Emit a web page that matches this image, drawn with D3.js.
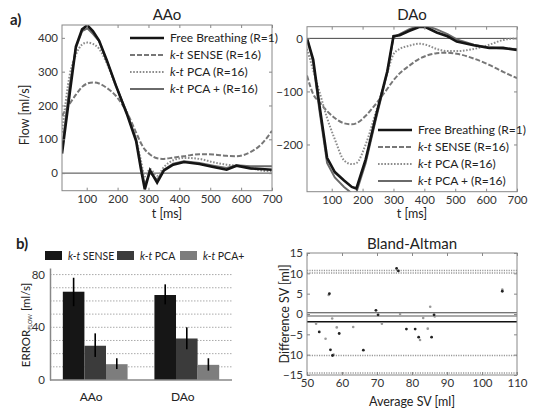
<!DOCTYPE html>
<head>
  <meta charset="utf-8">
  <script src="https://d3js.org/d3.v7.min.js"></script>
  <style>
    body { margin:0; background:#fff; }
    text { font-family: Lato, "Open Sans", sans-serif; fill:#222; }
    .tick text { font-size:11.5px; fill:#333; }
  </style>
</head>
<body>
<script>

/* Data */
/* ==== */

var seriesNames = ["Free Breathing (R=1)", "SENSE (R=16)", "PCA (R=16)", "PCA + (R=16)"];

// AAo flow curves [ml/s]
var aaoTime    = [20, 45, 65, 85, 102, 120, 140, 165, 195, 230, 260, 275, 288, 305, 328, 350, 380, 415, 465, 510, 553, 585, 630, 665, 700];
var aaoFree    = [58, 236, 374, 425, 437, 420, 392, 334, 258, 175, 95, 15, -48, 8, -28, 8, 25, 33, 27, 18, 10, 22, 14, 12, 10];
var aaoSense   = [170, 205, 232, 255, 265, 268, 265, 252, 228, 180, 120, 90, 70, 55, 44, 42, 46, 50, 56, 55, 51, 50, 62, 85, 125];
var aaoPca     = [120, 290, 350, 380, 386, 382, 368, 325, 256, 178, 100, 40, -10, 12, -8, 18, 38, 45, 42, 32, 25, 22, 15, 8, 5];
var aaoPcaPlus = [70, 260, 370, 420, 428, 412, 390, 332, 258, 178, 100, 25, -35, 2, -20, 10, 28, 35, 30, 22, 15, 23, 20, 20, 20];

// DAo flow curves [ml/s]
var daoTime    = [20, 40, 60, 85, 110, 140, 165, 180, 210, 245, 280, 300, 320, 350, 385, 405, 440, 475, 505, 560, 610, 655, 700];
var daoFree    = [0, -40, -125, -225, -252, -268, -280, -283, -228, -142, -62, 4, 6, 14, 22, 21, 11, 4, -6, -13, -18, -18, -22];
var daoSense   = [-70, -105, -120, -137, -150, -160, -162, -160, -146, -122, -95, -79, -66, -52, -38, -33, -28, -27, -29, -38, -50, -63, -75];
var daoPca     = [-20, -60, -100, -150, -190, -230, -237, -235, -200, -135, -65, -30, -20, -14, -10, -12, -20, -24, -24, -20, -12, -3, 0];
var daoPcaPlus = [0, -45, -135, -235, -262, -280, -292, -290, -235, -148, -65, 2, 8, 17, 25, 24, 17, 8, -2, -12, -17, -19, -20];

var timeTicks = [100, 200, 300, 400, 500, 600, 700];

// ERROR_FLOW bars [ml/s]
var barCategories = ["AAo", "DAo"];
var barMethods    = ["SENSE", "PCA", "PCA+"];
var barMeans = [[67, 26, 12], [64.5, 31.5, 11.5]];
var barLow   = [[56, 17.5, 8.3], [57.4, 23.3, 7.1]];
var barHigh  = [[77.6, 35.4, 16.5], [72.6, 40, 16.5]];

// Bland-Altman points [average SV, difference SV]
var baBlack = [[53.5,-4.4],[56.4,5.0],[56.7,-8.8],[57.3,-10.2],[59.2,-4.8],[66.1,-8.9],[69.7,0.9],[70.3,-0.2],
               [75.6,11.2],[76.1,10.6],[78.4,-3.7],[80.9,-3.7],[81.9,-5.7],[85.6,-5.7],[86.3,-0.2],[105.8,5.6]];
var baGray  = [[52.6,-2.4],[55.3,-6.1],[56.2,4.7],[57.2,-1.1],[58.5,-3.3],[63.2,-3.2],[71.4,-2.4],[76.6,0],
               [82.3,-6.4],[83.2,-1],[84.5,-3.6],[85.2,1.8],[86.5,-0.6],[105.8,6.0],[57.6,-10.0]];
var baMeanLines   = [0.3, -0.5, -1.9];
var baLimitLines  = [10.7, 10.1, -10.2, -14.5];


/* Set up */
/* ====== */

var svg = d3.select('body').append('svg')
    .attr('width', 533)
    .attr('height', 413);

var styles = [
  { color: '#151515', width: 2.6, dash: null, curve: d3.curveLinear },
  { color: '#777', width: 2, dash: '5,2', curve: d3.curveMonotoneX },
  { color: '#8c8c8c', width: 2, dash: '1.6,1.6', curve: d3.curveMonotoneX },
  { color: '#6a6a6a', width: 2, dash: null, curve: d3.curveLinear }
];

function label(sel, name) {
  if (name.indexOf('Free') === 0) { sel.text(name); return; }
  sel.append('tspan').style('font-style', 'italic').text('k-t');
  sel.append('tspan').text(' ' + name);
}

function grayTicks(a) {
  a.select('.domain').remove();
  a.selectAll('line').attr('stroke', '#888');
}

// box with MATLAB-like inner ticks on all four sides
function boxAxes(g, x, y, xTicks, yTicks) {
  var r = x.range(), b = y.range();
  g.append('g').attr('transform', 'translate(0,' + b[0] + ')')
    .call(d3.axisBottom(x).tickValues(xTicks).tickSizeInner(-3).tickSizeOuter(0).tickPadding(4))
    .call(grayTicks);
  g.append('g').attr('transform', 'translate(0,' + b[1] + ')')
    .call(d3.axisTop(x).tickValues(xTicks).tickSizeInner(-3).tickSizeOuter(0).tickFormat(''))
    .call(grayTicks);
  g.append('g').attr('transform', 'translate(' + r[0] + ',0)')
    .call(d3.axisLeft(y).tickValues(yTicks).tickSizeInner(-3).tickSizeOuter(0).tickPadding(4))
    .call(grayTicks);
  g.append('g').attr('transform', 'translate(' + r[1] + ',0)')
    .call(d3.axisRight(y).tickValues(yTicks).tickSizeInner(-3).tickSizeOuter(0).tickFormat(''))
    .call(grayTicks);
  g.append('rect')
    .attr('x', r[0]).attr('y', b[1])
    .attr('width', r[1] - r[0]).attr('height', b[0] - b[1])
    .attr('fill', 'none').attr('stroke', '#888').attr('stroke-width', 1);
}

function flowPlot(opt) {
  var g = svg.append('g');
  var x = d3.scaleLinear().domain([20, 700]).range(opt.xr);
  var y = d3.scaleLinear().domain(opt.yd).range(opt.yr);

  var clipId = 'clip' + opt.title;
  svg.append('clipPath').attr('id', clipId).append('rect')
    .attr('x', opt.xr[0]).attr('y', opt.yr[1])
    .attr('width', opt.xr[1] - opt.xr[0]).attr('height', opt.yr[0] - opt.yr[1]);

  g.append('line')
    .attr('x1', opt.xr[0]).attr('x2', opt.xr[1])
    .attr('y1', y(0)).attr('y2', y(0))
    .attr('stroke', '#444').attr('stroke-width', 1);

  var plot = g.append('g').attr('clip-path', 'url(#' + clipId + ')');
  opt.series.forEach(function(vals, i) {
    var s = styles[i];
    var line = d3.line().curve(s.curve)
      .x(function(d, j) { return x(opt.time[j]); })
      .y(function(d) { return y(d); });
    plot.append('path')
      .datum(vals)
      .attr('d', line)
      .attr('fill', 'none')
      .attr('stroke', s.color)
      .attr('stroke-width', s.width)
      .attr('stroke-dasharray', s.dash);
  });
  // draw black on top
  plot.select('path').raise();

  boxAxes(g, x, y, timeTicks, opt.yTicks);

  g.append('text')
    .attr('x', (opt.xr[0] + opt.xr[1]) / 2).attr('y', 20)
    .attr('text-anchor', 'middle').style('font-size', '15px')
    .text(opt.title);

  g.append('text')
    .attr('x', (opt.xr[0] + opt.xr[1]) / 2).attr('y', 218)
    .attr('text-anchor', 'middle').style('font-size', '12.5px')
    .text('t [ms]');

  // legend
  var leg = g.append('g');
  seriesNames.forEach(function(name, i) {
    var s = styles[i];
    var yy = opt.legY + i * 17;
    leg.append('line')
      .attr('x1', opt.legX).attr('x2', opt.legX + 34)
      .attr('y1', yy).attr('y2', yy)
      .attr('stroke', s.color).attr('stroke-width', s.width)
      .attr('stroke-dasharray', s.dash);
    leg.append('text')
      .attr('x', opt.legX + 40).attr('y', yy + 4)
      .style('font-size', '12px')
      .call(label, name);
  });
}

flowPlot({
  title: 'AAo', xr: [62, 272], yd: [-52, 438], yr: [190.7, 25],
  yTicks: [0, 100, 200, 300, 400], time: aaoTime,
  series: [aaoFree, aaoSense, aaoPca, aaoPcaPlus],
  legX: 130, legY: 38
});

flowPlot({
  title: 'DAo', xr: [307, 517], yd: [-289, 22], yr: [191.7, 26.7],
  yTicks: [-200, -100, 0], time: daoTime,
  series: [daoFree, daoSense, daoPca, daoPcaPlus],
  legX: 378, legY: 130
});

svg.append('text').attr('transform', 'translate(29,115) rotate(-90)')
  .attr('text-anchor', 'middle').style('font-size', '12.5px').text('Flow [ml/s]');

svg.append('text').attr('x', 10).attr('y', 25)
  .style('font-size', '15px').style('font-weight', 'bold').text('a)');
svg.append('text').attr('x', 16).attr('y', 249)
  .style('font-size', '15px').style('font-weight', 'bold').text('b)');


/* Bar chart */
/* ========= */

var barColors = ['#161616', '#3b3b3b', '#7d7d7d'];

var bx = d3.scaleBand().domain(barCategories).range([50, 232]).paddingInner(0.293).paddingOuter(0.14);
var bInner = d3.scaleBand().domain(barMethods).range([0, bx.bandwidth()]);
var by = d3.scaleLinear().domain([0, 85]).range([380, 268]);

var bg = svg.append('g');

bg.selectAll('.grid')
  .data(d3.range(10, 90, 10))
  .enter().append('line')
    .attr('x1', 50).attr('x2', 232)
    .attr('y1', function(d) { return by(d); }).attr('y2', function(d) { return by(d); })
    .attr('stroke', '#aaa').attr('stroke-width', 1).attr('stroke-dasharray', '1.5,1.5');

barCategories.forEach(function(cat, ci) {
  barMethods.forEach(function(m, mi) {
    var x0 = bx(cat) + bInner(m);
    bg.append('rect')
      .attr('x', x0).attr('y', by(barMeans[ci][mi]))
      .attr('width', bInner.bandwidth()).attr('height', by(0) - by(barMeans[ci][mi]))
      .attr('fill', barColors[mi]);
    bg.append('line')
      .attr('x1', x0 + bInner.bandwidth() / 2).attr('x2', x0 + bInner.bandwidth() / 2)
      .attr('y1', by(barLow[ci][mi])).attr('y2', by(barHigh[ci][mi]))
      .attr('stroke', '#000').attr('stroke-width', 1.6);
  });
  bg.append('text')
    .attr('x', bx(cat) + bx.bandwidth() / 2 - 4).attr('y', 401)
    .attr('text-anchor', 'middle').style('font-size', '12px').text(cat);
});

bg.append('g').attr('transform', 'translate(50,0)')
  .call(d3.axisLeft(by).tickValues([0, 40, 80]).tickSize(0).tickPadding(5))
  .call(function(a) { a.select('.domain').attr('stroke', '#888').attr('stroke-width', 1.5); a.selectAll('text').style('font-size', '11.5px'); });
bg.append('line').attr('x1', 50).attr('x2', 232).attr('y1', 380).attr('y2', 380)
  .attr('stroke', '#888').attr('stroke-width', 1.5);

var bl = bg.append('text').attr('transform', 'translate(30,325) rotate(-90)')
  .attr('text-anchor', 'middle').style('font-size', '11.5px');
bl.append('tspan').text('ERROR');
bl.append('tspan').attr('dy', 2).style('font-size', '5.5px').text('FLOW');
bl.append('tspan').attr('dy', -2).text(' [ml/s]');

var legX = [45, 117, 180];
barMethods.forEach(function(m, i) {
  bg.append('rect').attr('x', legX[i]).attr('y', 251).attr('width', 17).attr('height', 9)
    .attr('fill', barColors[i]);
  bg.append('text').attr('x', legX[i] + 23).attr('y', 259.5)
    .style('font-size', '10.5px').call(label, m);
});


/* Bland-Altman */
/* ============ */

var ax = d3.scaleLinear().domain([50, 110]).range([307, 517]);
var ay = d3.scaleLinear().domain([-15, 15]).range([375, 253]);
var ag = svg.append('g');

baLimitLines.forEach(function(v) {
  ag.append('line').attr('x1', 307).attr('x2', 517).attr('y1', ay(v)).attr('y2', ay(v))
    .attr('stroke', '#999').attr('stroke-width', 1.5).attr('stroke-dasharray', '1.2,1.2');
});
var meanStyle = [['#444', 1], ['#aaa', 2], ['#111', 1.6]];
baMeanLines.forEach(function(v, i) {
  ag.append('line').attr('x1', 307).attr('x2', 517).attr('y1', ay(v)).attr('y2', ay(v))
    .attr('stroke', meanStyle[i][0]).attr('stroke-width', meanStyle[i][1]);
});

ag.selectAll('.pg').data(baGray).enter().append('circle')
  .attr('cx', function(d) { return ax(d[0]); }).attr('cy', function(d) { return ay(d[1]); })
  .attr('r', 1.3).attr('fill', '#999');
ag.selectAll('.pb').data(baBlack).enter().append('circle')
  .attr('cx', function(d) { return ax(d[0]); }).attr('cy', function(d) { return ay(d[1]); })
  .attr('r', 1.4).attr('fill', '#222');

boxAxes(ag, ax, ay, [50, 60, 70, 80, 90, 100, 110], [-15, -10, -5, 0, 5, 10, 15]);

ag.append('text').attr('x', 412).attr('y', 249).attr('text-anchor', 'middle')
  .style('font-size', '15px').text('Bland-Altman');
ag.append('text').attr('x', 412).attr('y', 406).attr('text-anchor', 'middle')
  .style('font-size', '12.5px').text('Average SV [ml]');
ag.append('text').attr('transform', 'translate(289,314) rotate(-90)')
  .attr('text-anchor', 'middle').style('font-size', '12.5px').text('Difference SV [ml]');

</script>
</body>
